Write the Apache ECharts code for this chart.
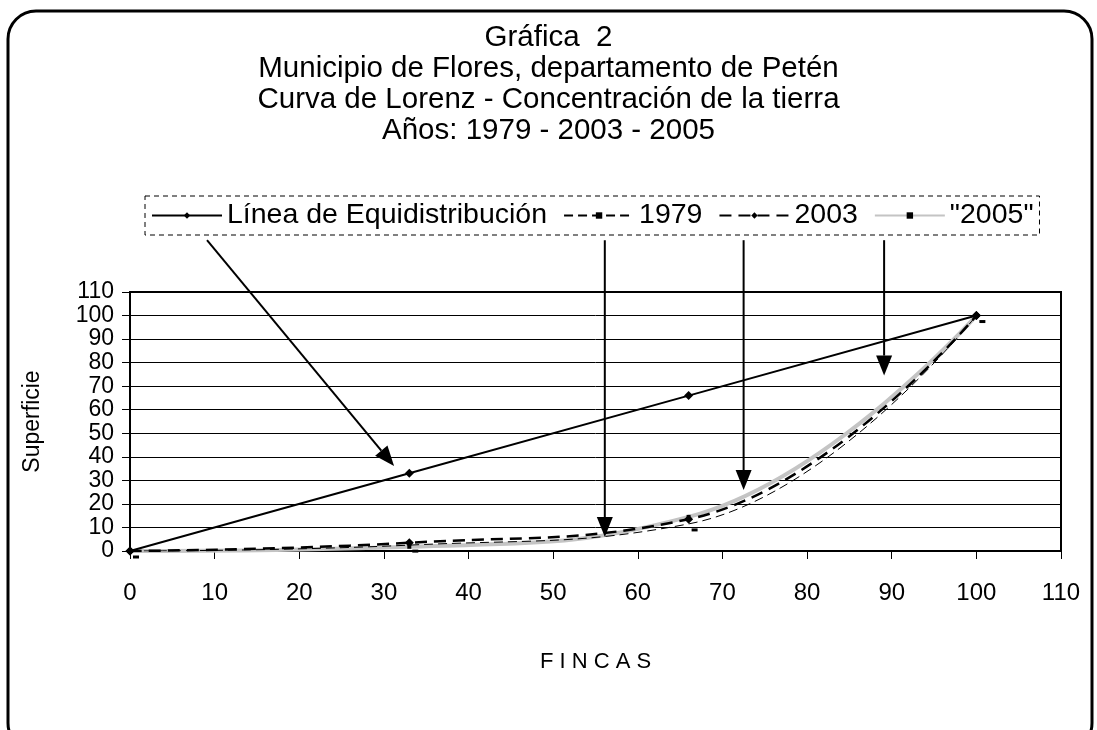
<!DOCTYPE html>
<html>
<head>
<meta charset="utf-8">
<script src="https://cdn.jsdelivr.net/npm/echarts@6/dist/echarts.min.js"></script>
<style>html,body{margin:0;padding:0;background:#fff}#c{width:1097px;height:730px}</style>
</head>
<body>
<div id="c"></div>
<script>
// ---- data ----
const titleLines = ['Gráfica  2', 'Municipio de Flores, departamento de Petén', 'Curva de Lorenz - Concentración de la tierra', 'Años: 1979 - 2003 - 2005'];
const seriesNames = ['Línea de Equidistribución', '1979', '2003', '"2005"'];
const fincas = [0, 33, 66, 100];
const equidistribucion = [0, 33, 66, 100];
const s1979 = [0, 2.5, 11.5, 100];
const s2003 = [0, 3.5, 13.5, 100];
const s2005 = [0, 1.8, 14.5, 100];
const xTicks = [0, 10, 20, 30, 40, 50, 60, 70, 80, 90, 100, 110];
const yTicks = [0, 10, 20, 30, 40, 50, 60, 70, 80, 90, 100, 110];
// annotation arrows (data coordinates): start (below legend) -> tip
const arrowStarts = [[9.1, 132], [56.1, 132], [72.5, 132], [89.1, 132]];
const arrowTips = [[31.2, 36.1], [56.1, 5.9], [72.5, 25.9], [89.1, 74.5]];

const pairs = (xs, ys) => xs.map((x, i) => [x, ys[i]]);
const FONT = 'Liberation Sans, Arial, sans-serif';
const SMOOTH = 0.45;

const chart = echarts.init(document.getElementById('c'), null, {renderer: 'canvas'});
const option = {
  backgroundColor: '#fff',
  animation: false,
  textStyle: {fontFamily: FONT, color: '#000'},
  title: {
    text: titleLines.join('\n'),
    left: 'center', top: 18,
    textStyle: {fontSize: 29.5, fontWeight: 'normal', lineHeight: 30.7, color: '#000', fontFamily: FONT}
  },
  legend: {
    top: 196, left: 145,
    padding: [5, 6],
    borderColor: '#000', borderWidth: 1, borderType: [5, 4],
    itemWidth: 70, itemHeight: 8, itemGap: 16,
    textStyle: {fontSize: 28.5, color: '#000', fontFamily: FONT},
    data: seriesNames
  },
  grid: {left: 130, right: 36, top: 292, bottom: 179, show: true, borderColor: '#000', borderWidth: 2, backgroundColor: 'transparent'},
  xAxis: {
    type: 'value', min: xTicks[0], max: xTicks[xTicks.length - 1], interval: 10,
    name: 'F I N C A S', nameLocation: 'middle', nameGap: 100,
    nameTextStyle: {fontSize: 22, color: '#000', fontFamily: FONT},
    axisLine: {show: true, lineStyle: {color: '#000', width: 2}},
    axisTick: {show: true, length: 8, lineStyle: {color: '#000', width: 1}},
    axisLabel: {fontSize: 24, color: '#000', margin: 30, fontFamily: FONT, showMinLabel: true, showMaxLabel: true},
    splitLine: {show: false}
  },
  yAxis: {
    type: 'value', min: yTicks[0], max: yTicks[yTicks.length - 1], interval: 10,
    name: 'Superficie', nameLocation: 'middle', nameGap: 86,
    nameTextStyle: {fontSize: 23, color: '#000', fontFamily: FONT},
    axisLine: {show: true, lineStyle: {color: '#000', width: 2}},
    axisTick: {show: true, length: 8, lineStyle: {color: '#000', width: 1}},
    axisLabel: {fontSize: 23, lineHeight: 18, color: '#000', margin: 16, fontFamily: FONT, showMinLabel: true, showMaxLabel: true, hideOverlap: false},
    splitLine: {show: true, lineStyle: {color: '#000', width: 1}}
  },
  series: [
    {
      name: seriesNames[0], type: 'line', data: pairs(fincas, equidistribucion),
      symbol: 'diamond', symbolSize: 9, z: 5,
      itemStyle: {color: '#000'}, lineStyle: {color: '#000', width: 2}
    },
    {
      name: seriesNames[1], type: 'line', data: pairs(fincas, s1979), smooth: SMOOTH,
      symbol: 'rect', symbolSize: [6, 3], symbolOffset: [6, 6], z: 3,
      itemStyle: {color: '#000'}, lineStyle: {color: '#000', width: 1, type: [9, 5]}
    },
    {
      name: seriesNames[2], type: 'line', data: pairs(fincas, s2003), smooth: SMOOTH,
      symbol: 'diamond', symbolSize: 9, z: 4,
      itemStyle: {color: '#000'}, lineStyle: {color: '#000', width: 2.5, type: [12, 7]}
    },
    {
      name: seriesNames[3], type: 'line', data: pairs(fincas, s2005), smooth: SMOOTH,
      symbol: 'rect', symbolSize: 4, z: 2,
      itemStyle: {color: '#000'}, lineStyle: {color: '#c4c4c4', width: 4}
    }
  ]
};
chart.setOption(option);

// annotation arrows and outer rounded border
function arrowGraphics() {
  const els = [];
  arrowStarts.forEach((s, i) => {
    const p0 = chart.convertToPixel({gridIndex: 0}, s);
    const p1 = chart.convertToPixel({gridIndex: 0}, arrowTips[i]);
    const dx = p1[0] - p0[0], dy = p1[1] - p0[1];
    const len = Math.sqrt(dx * dx + dy * dy);
    const ux = dx / len, uy = dy / len;
    const hl = 20, hw = 8;
    const bx = p1[0] - ux * hl, by = p1[1] - uy * hl;
    els.push({type: 'line', z: 100, shape: {x1: p0[0], y1: p0[1], x2: bx, y2: by}, style: {stroke: '#000', lineWidth: 2}});
    els.push({type: 'polygon', z: 100, shape: {points: [[p1[0], p1[1]], [bx - uy * hw, by + ux * hw], [bx + uy * hw, by - ux * hw]]}, style: {fill: '#000'}});
  });
  els.push({type: 'rect', z: 0, shape: {x: 8, y: 11, width: 1084, height: 740, r: 28}, style: {fill: 'none', stroke: '#000', lineWidth: 3}});
  return els;
}
chart.setOption({graphic: arrowGraphics()});
</script>
</body>
</html>
